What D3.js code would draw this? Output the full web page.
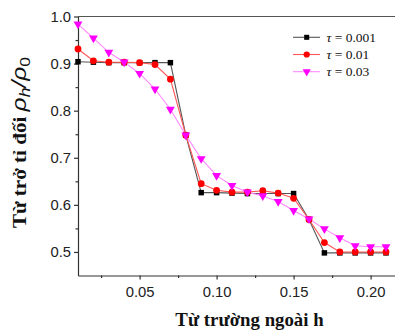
<!DOCTYPE html>
<html>
<head>
<meta charset="utf-8">
<script src="https://cdn.jsdelivr.net/npm/d3@7"></script>
<style>
  html, body { margin: 0; padding: 0; background: #fff; }
  svg { display: block; }
  .tick text { font-family: "Liberation Sans", Arial, sans-serif; font-size: 14.8px; fill: #222; }
  .axis path, .axis line { stroke: #333; stroke-width: 1.2; }
</style>
</head>
<body>
<div id="chart"></div>
<script>
// 外加磁场 h 与相对电阻 rho_h/rho_0, 三个 tau
const hValues = [0.01, 0.02, 0.03, 0.04, 0.05, 0.06, 0.07, 0.08, 0.09, 0.10, 0.11,
                 0.12, 0.13, 0.14, 0.15, 0.16, 0.17, 0.18, 0.19, 0.20, 0.21];
const tau001 = [0.904, 0.903, 0.902, 0.902, 0.902, 0.902, 0.902, 0.748, 0.626, 0.626, 0.625,
                0.624, 0.624, 0.624, 0.624, 0.569, 0.498, 0.498, 0.498, 0.498, 0.498];
const tau01  = [0.931, 0.906, 0.903, 0.903, 0.902, 0.898, 0.867, 0.748, 0.645, 0.631, 0.627,
                0.627, 0.630, 0.625, 0.614, 0.569, 0.520, 0.500, 0.500, 0.500, 0.500];
const tau03  = [0.984, 0.954, 0.924, 0.903, 0.879, 0.846, 0.803, 0.748, 0.698, 0.662, 0.641,
                0.627, 0.619, 0.607, 0.588, 0.570, 0.549, 0.530, 0.513, 0.511, 0.511];
const seriesNames = ["0.001", "0.01", "0.03"];
const xTicks = [0.05, 0.10, 0.15, 0.20];
const yTicks = [0.5, 0.6, 0.7, 0.8, 0.9, 1.0];

const W = 395, H = 331;
const svg = d3.select("#chart").append("svg").attr("width", W).attr("height", H);

const x = d3.scaleLinear().domain([0.01, 0.22]).range([78, 401.4]);
const y = d3.scaleLinear().domain([0.45, 1.0]).range([275.5, 16.5]);

const series = [
  { name: seriesNames[0], vals: tau001, line: "#555", fill: "#000", sym: d3.symbolSquare, size: 30 },
  { name: seriesNames[1], vals: tau01,  line: "#f55", fill: "#ff0000", sym: d3.symbolCircle, size: 36 },
  { name: seriesNames[2], vals: tau03,  line: "#ff88ff", fill: "#ff00ff", sym: d3.symbolTriangle, size: 34, flip: true }
];

// 框线: 上边
svg.append("line").attr("x1", x.range()[0]).attr("x2", x.range()[1])
  .attr("y1", y.range()[1]).attr("y2", y.range()[1])
  .attr("stroke", "#555").attr("stroke-width", 1.2);

// 次刻度
const xMinor = d3.range(0.025, 0.22, 0.05);
const yMinor = d3.range(0.55, 1.0, 0.1);
svg.append("g").attr("class", "axis").attr("transform", `translate(0,${y.range()[0]})`)
  .call(d3.axisBottom(x).tickValues(xMinor).tickSize(2.5).tickFormat("").tickSizeOuter(0))
  .select(".domain").remove();
svg.append("g").attr("class", "axis").attr("transform", `translate(${x.range()[0]},0)`)
  .call(d3.axisLeft(y).tickValues(yMinor).tickSize(2.5).tickFormat("").tickSizeOuter(0))
  .select(".domain").remove();

svg.append("g").attr("class", "axis").attr("transform", `translate(0,${y.range()[0]})`)
  .call(d3.axisBottom(x).tickValues(xTicks).tickSize(4).tickPadding(7).tickSizeOuter(0)
    .tickFormat(d3.format(".2f")));
svg.append("g").attr("class", "axis").attr("transform", `translate(${x.range()[0]},0)`)
  .call(d3.axisLeft(y).tickValues(yTicks).tickSize(4).tickPadding(3).tickSizeOuter(0)
    .tickFormat(d3.format(".1f")));

const line = d3.line().x((d, i) => x(hValues[i])).y(d => y(d));
const gData = svg.append("g");
series.forEach(s => {
  gData.append("path").datum(s.vals).attr("d", line)
    .attr("fill", "none").attr("stroke", s.line).attr("stroke-width", 1.1);
});
series.forEach(s => {
  const sym = d3.symbol().type(s.sym).size(s.size);
  gData.selectAll(null).data(s.vals).join("path")
    .attr("d", sym)
    .attr("transform", (d, i) => `translate(${x(hValues[i])},${y(d)})${s.flip ? " rotate(180)" : ""}`)
    .attr("fill", s.fill);
});

// 图例
const lg = svg.append("g");
series.forEach((s, i) => {
  const yy = 37.3 + i * 17.2;
  lg.append("line").attr("x1", 293).attr("x2", 320).attr("y1", yy).attr("y2", yy)
    .attr("stroke", s.line).attr("stroke-width", 1.1);
  lg.append("path").attr("d", d3.symbol().type(s.sym).size(s.size * 0.85)())
    .attr("transform", `translate(306.7,${yy})${s.flip ? " rotate(180)" : ""}`)
    .attr("fill", s.fill);
  const t = lg.append("text").attr("x", 326.5).attr("y", yy + 4.5)
    .attr("font-family", "'Liberation Serif', 'Times New Roman', serif").attr("font-size", 13.5).attr("fill", "#111");
  t.append("tspan").attr("font-style", "italic").text("τ");
  t.append("tspan").text(" = " + s.name);
});

// 轴标题
svg.append("text").attr("x", 249.5).attr("y", 325.7).attr("text-anchor", "middle")
  .attr("font-family", "'Liberation Serif', 'Times New Roman', serif").attr("font-weight", "bold")
  .attr("font-size", 18.8).attr("fill", "#111").text("Từ trường ngoài h");

// 原图纵向被拉长, 沿文字方向放大
const yl = svg.append("text").attr("transform", "translate(26,142.5) rotate(-90) scale(1.17,1)")
  .attr("text-anchor", "middle")
  .attr("font-family", "'Liberation Serif', 'Times New Roman', serif").attr("font-weight", "bold")
  .attr("font-size", 18).attr("fill", "#111");
yl.append("tspan").text("Từ trở tỉ đối ");
const mt = (txt, size, dy) => {
  const ts = yl.append("tspan").text(txt).attr("font-size", size)
    .attr("font-family", "'Liberation Sans', Arial, sans-serif")
    .attr("font-style", "italic").attr("font-weight", "normal");
  if (dy) ts.attr("dy", dy);
  return ts;
};
mt("ρ", 21);
mt("h", 15, 4);
mt("/", 21, -4);
mt("ρ", 21);
mt("0", 15, 4).attr("font-style", "normal");
</script>
</body>
</html>
